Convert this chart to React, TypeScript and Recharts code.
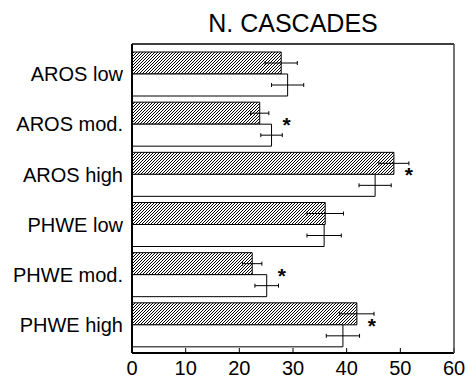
import {
  ComposedChart,
  Bar,
  ErrorBar,
  Scatter,
  XAxis,
  YAxis,
} from "recharts";

const categories = [
  "AROS low",
  "AROS mod.",
  "AROS high",
  "PHWE low",
  "PHWE mod.",
  "PHWE high",
];
const hatchedValues = [27.8, 23.8, 48.8, 36.0, 22.4, 41.9];
const hatchedErrors = [3.0, 1.7, 2.8, 3.4, 1.8, 3.2];
const openValues = [29.0, 26.0, 45.3, 35.8, 25.1, 39.3];
const openErrors = [3.0, 2.0, 3.0, 3.2, 2.2, 3.1];
const starPositions = [null, 28.8, 51.6, null, 27.9, 44.7];
const xTicks = [0, 10, 20, 30, 40, 50, 60];

const data = categories.map((name, i) => ({
  name,
  hatched: hatchedValues[i],
  hatchedErr: hatchedErrors[i],
  open: openValues[i],
  openErr: openErrors[i],
  star: starPositions[i],
}));

const FONT = "'Liberation Sans', Arial, Helvetica, sans-serif";

// asterisk drawn a little above the middle of the category
const renderStar = (props: any) => {
  const { cx, cy, payload } = props;
  if (payload == null || payload.star == null) return <g />;
  return (
    <text
      x={cx}
      y={cy + 8}
      textAnchor="middle"
      fontSize={21}
      fontWeight="bold"
      fontFamily={FONT}
      fill="#000"
    >
      *
    </text>
  );
};

const App = () => {
  return (
    <div
      style={{
        position: "absolute",
        left: 0,
        top: 0,
        width: 468,
        height: 381,
        background: "#fff",
        fontFamily: FONT,
      }}
    >
      <div
        style={{
          position: "absolute",
          left: 132,
          width: 322,
          top: 11,
          fontSize: 25,
          lineHeight: "25px",
          textAlign: "center",
          color: "#000",
        }}
      >
        N. CASCADES
      </div>
      <ComposedChart
        width={468}
        height={381}
        data={data}
        layout="vertical"
        margin={{ top: 43, right: 0, bottom: 0, left: 0 }}
        barCategoryGap={3}
        barGap={0}
      >
        <defs>
          <pattern id="hatch" width={3} height={3} patternUnits="userSpaceOnUse">
            <rect width={3} height={3} fill="#fff" />
            <path
              d="M-1,1 L1,-1 M0,3 L3,0 M2,4 L4,2"
              stroke="#000"
              strokeWidth={1}
              shapeRendering="crispEdges"
            />
          </pattern>
        </defs>
        <XAxis
          type="number"
          domain={[0, 60]}
          ticks={xTicks}
          allowDataOverflow
          height={28}
          tickSize={-5}
          tickMargin={13}
          axisLine={{ stroke: "#000", strokeWidth: 2 }}
          tickLine={{ stroke: "#000" }}
          tick={{ fill: "#000", fontSize: 20, fontFamily: FONT }}
        />
        <XAxis
          xAxisId="top"
          orientation="top"
          type="number"
          domain={[0, 60]}
          ticks={xTicks}
          allowDataOverflow
          height={1}
          tickSize={-5}
          tick={false}
          axisLine={{ stroke: "#000", strokeWidth: 1.5 }}
          tickLine={{ stroke: "#000" }}
        />
        <YAxis
          type="category"
          dataKey="name"
          width={132}
          padding={{ top: 5, bottom: 3 }}
          tickSize={0}
          tickMargin={9}
          tickLine={false}
          axisLine={{ stroke: "#000", strokeWidth: 2 }}
          tick={{ fill: "#000", fontSize: 20, fontFamily: FONT }}
        />
        <YAxis
          yAxisId="right"
          orientation="right"
          type="category"
          dataKey="name"
          width={14}
          padding={{ top: 5, bottom: 3 }}
          tickSize={-4}
          tick={false}
          axisLine={{ stroke: "#444", strokeWidth: 1.5 }}
          tickLine={{ stroke: "#000" }}
        />
        <Bar
          dataKey="hatched"
          fill="url(#hatch)"
          stroke="#000"
          strokeWidth={1}
          isAnimationActive={false}
        >
          <ErrorBar
            dataKey="hatchedErr"
            direction="x"
            width={2}
            stroke="#000"
            strokeWidth={1}
          />
        </Bar>
        <Bar
          dataKey="open"
          fill="#fff"
          stroke="#000"
          strokeWidth={1}
          isAnimationActive={false}
        >
          <ErrorBar
            dataKey="openErr"
            direction="x"
            width={2}
            stroke="#000"
            strokeWidth={1}
          />
        </Bar>
        <Scatter dataKey="star" shape={renderStar} isAnimationActive={false} />
      </ComposedChart>
    </div>
  );
};

export default App;
